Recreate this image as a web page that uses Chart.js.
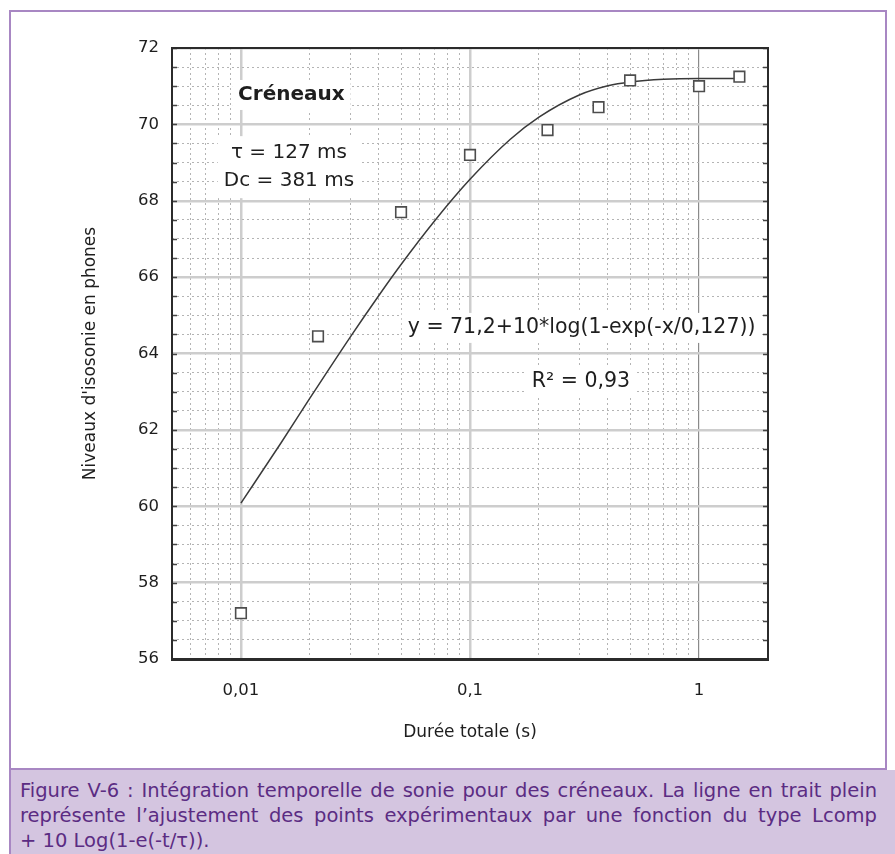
<!DOCTYPE html>
<html lang="fr">
<head>
<meta charset="utf-8">
<title>Créneaux</title>
<script src="https://cdn.jsdelivr.net/npm/chart.js@4.4.1/dist/chart.umd.min.js"></script>
<style>
  html, body { margin: 0; padding: 0; background: #fff; }
  body { width: 895px; height: 854px; position: relative; overflow: hidden; }
  #graph { position: absolute; left: 0; top: 0; }
  #cadre {
    position: absolute; left: 9px; top: 10px; width: 874px; height: 756px;
    border: 2px solid #a887c3; pointer-events: none;
  }
  #legende {
    position: absolute; left: 9px; top: 770px; width: 857px; height: 84px;
    border-left: 2px solid #a887c3; background: #d4c5e0; color: #5b2c83;
    padding: 8px 18px 0 9px; box-sizing: content-box;
    font-family: "DejaVu Sans", "Liberation Sans", sans-serif;
    font-size: 19.5px; line-height: 25px;
  }
  #legende div { white-space: nowrap; }
  #legende .j { text-align: justify; text-align-last: justify; }
</style>
</head>
<body>
<canvas id="graph" width="895" height="768"></canvas>
<div id="cadre"></div>
<div id="legende">
  <div class="j">Figure V-6 : Intégration temporelle de sonie pour des créneaux. La ligne en trait plein</div>
  <div class="j">représente l’ajustement des points expérimentaux par une fonction du type Lcomp</div>
  <div>+ 10 Log(1-e(-t/τ)).</div>
</div>
<script>
// points expérimentaux (durée en s, niveau en phones)
const dureesMesures = [0.01, 0.0217, 0.05, 0.1, 0.218, 0.364, 0.5, 1.0, 1.5];
const niveauxMesures = [57.2, 64.45, 67.7, 69.2, 69.85, 70.45, 71.15, 71.0, 71.25];

// courbe d'ajustement y = 71,2 + 10*log(1-exp(-x/0,127))
const dureesAjust = [0.01, 0.015, 0.02, 0.03, 0.04, 0.05, 0.07, 0.1, 0.15, 0.2, 0.3, 0.4, 0.5, 0.7, 1, 1.5];
const niveauxAjust = [60.08, 61.67, 62.83, 64.43, 65.52, 66.33, 67.47, 68.56, 69.61, 70.19, 70.77, 71.01, 71.11, 71.18, 71.2, 71.2];

// graduations
const xTickValues = [0.01, 0.1, 1];
const xTickLabels = ['0,01', '0,1', '1'];
const yTickLabels = ['56', '58', '60', '62', '64', '66', '68', '70', '72'];

const police = '"DejaVu Sans", "Liberation Sans", sans-serif';

// textes posés dans le graphique (coordonnées en unités des axes)
const textes = [
  { lignes: ['Créneaux'], x: 0.0166, y: 70.77, font: 'bold 20px ' + police },
  { lignes: ['τ = 127 ms', 'Dc = 381 ms'], x: 0.0162, y: 68.88, font: '20px ' + police, interligne: 28 },
  { lignes: ['y = 71,2+10*log(1-exp(-x/0,127))'], x: 0.307, y: 64.67, font: '20.5px ' + police },
  { lignes: ['R² = 0,93'], x: 0.305, y: 63.25, font: '20.5px ' + police }
];

const estDecade = v => Math.abs(Math.log10(v) - Math.round(Math.log10(v))) < 1e-9;

const cadrePlugin = {
  id: 'cadre',
  beforeDatasetsDraw(chart) {
    const { ctx, scales: { x, y } } = chart;
    ctx.save();
    ctx.textAlign = 'center';
    ctx.textBaseline = 'middle';
    textes.forEach(t => {
      ctx.font = t.font;
      const cx = x.getPixelForValue(t.x);
      const cy = y.getPixelForValue(t.y);
      const h = t.interligne || 24;
      const w = Math.max(...t.lignes.map(l => ctx.measureText(l).width));
      const total = h * t.lignes.length;
      ctx.fillStyle = '#fff';
      ctx.fillRect(cx - w / 2 - 6, cy - total / 2 - 3, w + 12, total + 6);
      ctx.fillStyle = '#1e1e1e';
      t.lignes.forEach((l, i) => {
        ctx.fillText(l, cx, cy - total / 2 + h * (i + 0.5));
      });
    });
    ctx.restore();
  },
  afterDraw(chart) {
    const { ctx, chartArea: a, scales: { y } } = chart;
    ctx.save();
    // petites graduations intérieures
    ctx.strokeStyle = '#444';
    ctx.lineWidth = 1.5;
    y.ticks.forEach(t => {
      const py = Math.round(y.getPixelForValue(t.value)) + 0.5;
      ctx.beginPath();
      ctx.moveTo(a.left, py); ctx.lineTo(a.left + 5, py);
      ctx.moveTo(a.right, py); ctx.lineTo(a.right - 5, py);
      ctx.stroke();
    });
    ctx.strokeStyle = '#2b2b2b';
    ctx.lineWidth = 2;
    ctx.strokeRect(a.left, a.top, a.right - a.left, a.bottom - a.top);
    ctx.lineWidth = 3;
    ctx.beginPath();
    ctx.moveTo(a.left - 1, a.bottom + 0.5);
    ctx.lineTo(a.right + 1, a.bottom + 0.5);
    ctx.stroke();
    ctx.restore();
  }
};

const ctx = document.getElementById('graph').getContext('2d');

const chart = new Chart(ctx, {
  type: 'scatter',
  data: {
    datasets: [{
      type: 'scatter',
      label: 'Mesures',
      data: dureesMesures.map((d, i) => ({ x: d, y: niveauxMesures[i] })),
      pointStyle: 'rect',
      pointRadius: 7.5,
      borderColor: '#4d4d4d',
      backgroundColor: '#fff',
      borderWidth: 1.6,
      order: 1
    }, {
      type: 'line',
      label: 'Ajustement',
      data: dureesAjust.map((d, i) => ({ x: d, y: niveauxAjust[i] })),
      borderColor: '#3a3a3a',
      borderWidth: 1.5,
      pointRadius: 0,
      cubicInterpolationMode: 'monotone',
      fill: false,
      order: 2
    }]
  },
  options: {
    responsive: false,
    animation: false,
    layout: { padding: { left: 0, right: 127, top: 48, bottom: 0 } },
    plugins: {
      legend: { display: false },
      tooltip: { enabled: false }
    },
    scales: {
      x: {
        type: 'logarithmic',
        min: 0.005,
        max: 2,
        afterBuildTicks: scale => {
          const vals = [];
          [0.001, 0.01, 0.1, 1].forEach(dec => {
            for (let k = 1; k <= 9; k++) {
              const v = +(k * dec).toPrecision(3);
              if (v >= 0.005 && v <= 2) vals.push({ value: v });
            }
          });
          scale.ticks = vals;
        },
        afterFit: scale => { scale.height = 109; },
        ticks: {
          autoSkip: false,
          maxRotation: 0,
          padding: 22,
          color: '#1e1e1e',
          font: { family: police, size: 16.5 },
          callback: value => {
            const i = xTickValues.findIndex(v => Math.abs(v - value) < 1e-9);
            return i >= 0 ? xTickLabels[i] : '';
          }
        },
        grid: {
          drawTicks: false,
          color: c => estDecade(c.tick.value) ? (c.tick.value === 1 ? '#8a8a8a' : '#cdcdcd') : '#b4b4b4',
          lineWidth: c => estDecade(c.tick.value) ? (c.tick.value === 1 ? 1.2 : 2.5) : 1
        },
        border: {
          display: false,
          dash: c => estDecade(c.tick.value) ? [] : [2, 3]
        },
        title: {
          display: true,
          text: 'Durée totale (s)',
          color: '#1e1e1e',
          font: { family: police, size: 17 },
          padding: { top: 0, bottom: 25 }
        }
      },
      y: {
        min: 56,
        max: 72,
        afterBuildTicks: scale => {
          const vals = [];
          for (let v = 56; v <= 72; v += 0.5) vals.push({ value: v });
          scale.ticks = vals;
        },
        afterFit: scale => { scale.width = 172; },
        ticks: {
          autoSkip: false,
          padding: 13,
          color: '#1e1e1e',
          font: { family: police, size: 16.5 },
          callback: value => yTickLabels.includes(String(value)) ? String(value) : ''
        },
        grid: {
          drawTicks: false,
          color: c => c.tick.value % 2 === 0 ? '#cdcdcd' : '#b4b4b4',
          lineWidth: c => c.tick.value % 2 === 0 ? 2.5 : 1
        },
        border: {
          display: false,
          dash: c => c.tick.value % 2 === 0 ? [] : [2, 3]
        },
        title: {
          display: true,
          text: "Niveaux d'isosonie en phones",
          color: '#1e1e1e',
          font: { family: police, size: 17 },
          padding: { top: 80, bottom: 0 }
        }
      }
    }
  },
  plugins: [cadrePlugin]
});
</script>
</body>
</html>
